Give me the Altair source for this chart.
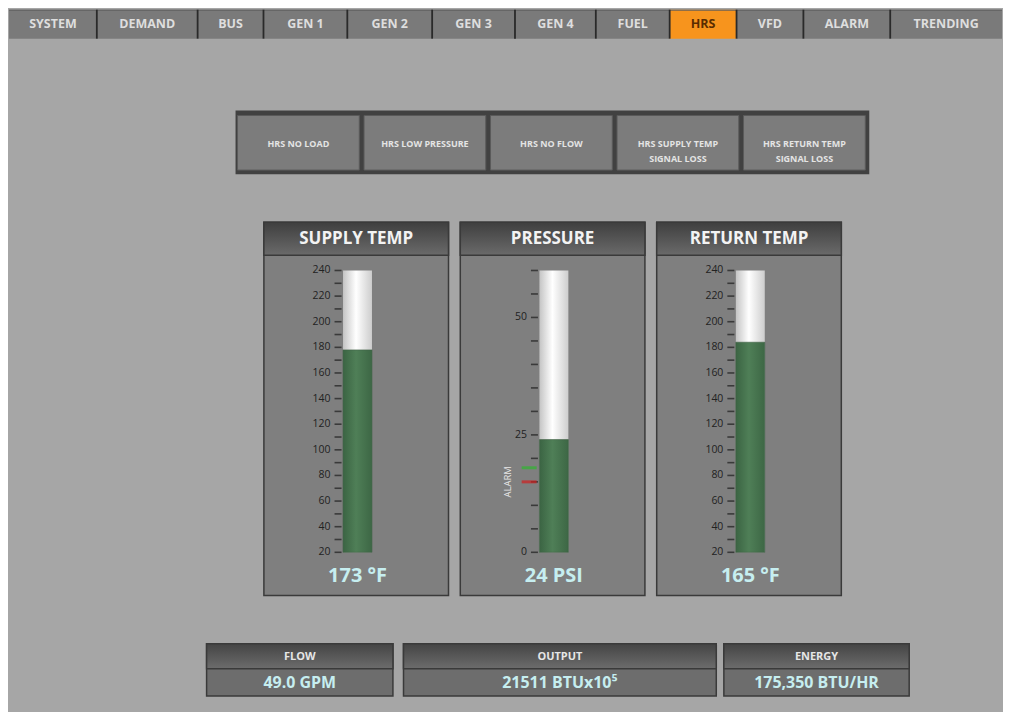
import altair as alt
import pandas as pd

# ---------------- data ----------------
TABS = ["SYSTEM", "DEMAND", "BUS", "GEN 1", "GEN 2", "GEN 3", "GEN 4",
        "FUEL", "HRS", "VFD", "ALARM", "TRENDING"]
ACTIVE_TAB = "HRS"

ALARMS = ["HRS NO LOAD", "HRS LOW PRESSURE", "HRS NO FLOW",
          "HRS SUPPLY TEMP\nSIGNAL LOSS", "HRS RETURN TEMP\nSIGNAL LOSS"]

GAUGES = ["SUPPLY TEMP", "PRESSURE", "RETURN TEMP"]
GAUGE_MIN = [20, 0, 20]
GAUGE_MAX = [240, 60, 240]
GAUGE_LEVEL = [178, 24, 184]
GAUGE_READING = ["173 °F", "24 PSI", "165 °F"]

TEMP_TICKS = list(range(20, 241, 10))
TEMP_LABELS = [20, 40, 60, 80, 100, 120, 140, 160, 180, 200, 220, 240]
PRESSURE_TICKS = list(range(0, 61, 5))
PRESSURE_LABELS = [0, 25, 50]
PRESSURE_ALARM_HIGH = 18
PRESSURE_ALARM_LOW = 15

TILES = ["FLOW", "OUTPUT", "ENERGY"]
TILE_VALUES = ["49.0 GPM", "21511 BTUx10\u2075", "175,350 BTU/HR"]

# ---------------- layout / style ----------------
W, H = 995, 703
BG = "#a6a6a6"
FONT = "Open Sans"
TAB_EDGES = [0, 88, 189, 255, 339, 424, 507, 588, 662, 729, 796, 883, 995]
GAUGE_CENTERS = [349.2, 546.0, 742.8]
STEP = GAUGE_CENTERS[1] - GAUGE_CENTERS[0]
TILE_EDGES = [(198, 384.7), (395.3, 708.7), (716.3, 902)]
VALUE_COLOR = "#c6eef0"


def vgrad(top, bottom):
    return alt.Gradient(gradient="linear", x1=0, x2=0, y1=0, y2=1,
                        stops=[alt.GradientStop(color=top, offset=0),
                               alt.GradientStop(color=bottom, offset=1)])


def hgrad(edge, mid, edge2):
    return alt.Gradient(gradient="linear", x1=0, x2=1, y1=0, y2=0,
                        stops=[alt.GradientStop(color=edge, offset=0),
                               alt.GradientStop(color=mid, offset=0.45),
                               alt.GradientStop(color=edge2, offset=1)])


NX = lambda f: alt.X(f, scale=None, axis=None)

# ---------------- tabs ----------------
tabs_df = pd.DataFrame({
    "label": TABS,
    "x0": TAB_EDGES[:-1],
    "x1": TAB_EDGES[1:],
})
tabs_df["xm"] = (tabs_df.x0 + tabs_df.x1) / 2
tabs_df["fill"] = ["#f7941d" if t == ACTIVE_TAB else "#7a7a7a" for t in TABS]
tabs_df["ink"] = ["#5a2c00" if t == ACTIVE_TAB else "#dedede" for t in TABS]
sep_df = pd.DataFrame({"x": TAB_EDGES[1:-1]})

tab_rects = alt.Chart(tabs_df).mark_rect().encode(
    x=NX("x0:Q"), x2="x1:Q", y=alt.value(0), y2=alt.value(29),
    fill=alt.Fill("fill:N", scale=None))
tab_top = alt.Chart(tabs_df.head(1)).mark_rule(color="#5e5e5e", strokeWidth=1).encode(
    x=alt.value(0), x2=alt.value(W), y=alt.value(0.5))
tab_seps = alt.Chart(sep_df).mark_rule(color="#2a2a2a", strokeWidth=1.8).encode(
    x=NX("x:Q"), y=alt.value(0), y2=alt.value(29))
tab_text = alt.Chart(tabs_df).mark_text(font=FONT, fontSize=12.5, fontWeight="bold",
                                        baseline="middle").encode(
    x=NX("xm:Q"), y=alt.value(14), text="label:N",
    color=alt.Color("ink:N", scale=None))

# ---------------- alarm strip ----------------
alarm_df = pd.DataFrame({"label": ALARMS})
alarm_df["x0"] = [229 + i * 126.75 for i in range(len(ALARMS))]
alarm_df["x1"] = alarm_df.x0 + 122
alarm_df["xm"] = (alarm_df.x0 + alarm_df.x1) / 2

alarm_frame = alt.Chart(alarm_df.head(1)).mark_rect(color="#414141").encode(
    x=alt.value(227), x2=alt.value(862), y=alt.value(101), y2=alt.value(165))
alarm_boxes = alt.Chart(alarm_df).mark_rect(fill="#7c7c7c", stroke="#5a5a5a",
                                            strokeWidth=1).encode(
    x=NX("x0:Q"), x2="x1:Q", y=alt.value(106), y2=alt.value(160.7))
alarm_text = alt.Chart(alarm_df).mark_text(font=FONT, fontSize=9, fontWeight="bold",
                                           lineBreak="\n", lineHeight=15,
                                           baseline="middle", color="#e4e4e4").encode(
    x=NX("xm:Q"), y=alt.value(134.6), text="label:N")

# ---------------- gauge panels (chrome) ----------------
panel_df = pd.DataFrame({"name": GAUGES, "c": GAUGE_CENTERS})
panel_df["x0"] = panel_df.c - 1.3 - 92.5
panel_df["x1"] = panel_df.c - 1.3 + 92.5
panel_df["xm"] = panel_df.c - 1.3

panels = alt.Chart(panel_df).mark_rect(fill="#7f7f7f", stroke="#3a3a3a",
                                       strokeWidth=1.5).encode(
    x=NX("x0:Q"), x2="x1:Q", y=alt.value(213), y2=alt.value(587))
headers = alt.Chart(panel_df).mark_rect(fill=vgrad("#3f3f3f", "#6a6a6a"),
                                        stroke="#3a3a3a", strokeWidth=1.5).encode(
    x=NX("x0:Q"), x2="x1:Q", y=alt.value(213), y2=alt.value(246))
header_text = alt.Chart(panel_df).mark_text(font=FONT, fontSize=17, fontWeight="bold",
                                            baseline="middle", color="#f3f3f3").encode(
    x=NX("xm:Q"), y=alt.value(229.5), text="name:N")

# ---------------- bottom tiles ----------------
tile_df = pd.DataFrame({"name": TILES, "value": TILE_VALUES})
tile_df["x0"] = [e[0] for e in TILE_EDGES]
tile_df["x1"] = [e[1] for e in TILE_EDGES]
tile_df["xm"] = (tile_df.x0 + tile_df.x1) / 2

tile_body = alt.Chart(tile_df).mark_rect(fill="#6d6d6d", stroke="#3a3a3a",
                                         strokeWidth=1.5).encode(
    x=NX("x0:Q"), x2="x1:Q", y=alt.value(635.3), y2=alt.value(687.7))
tile_head = alt.Chart(tile_df).mark_rect(fill=vgrad("#444444", "#6c6c6c"),
                                         stroke="#3a3a3a", strokeWidth=1.5).encode(
    x=NX("x0:Q"), x2="x1:Q", y=alt.value(635.3), y2=alt.value(660.3))
tile_name = alt.Chart(tile_df).mark_text(font=FONT, fontSize=11, fontWeight="bold",
                                         baseline="middle", color="#e6e6e6").encode(
    x=NX("xm:Q"), y=alt.value(648.5), text="name:N")
tile_value = alt.Chart(tile_df).mark_text(font=FONT, fontSize=16, fontWeight="bold",
                                          baseline="middle", color=VALUE_COLOR).encode(
    x=NX("xm:Q"), y=alt.value(674.5), text="value:N")

# ---------------- gauges (through scales) ----------------
XS = alt.Scale(domain=GAUGES, range=[GAUGE_CENTERS[0] - STEP / 2, GAUGE_CENTERS[-1] + STEP / 2],
               paddingInner=0, paddingOuter=0)
Y_RANGE = [543.7, 261.3]


def gauge_group(idx, ticks, labels, extra=None):
    names = [GAUGES[i] for i in idx]
    ys = alt.Scale(domain=[GAUGE_MIN[idx[0]], GAUGE_MAX[idx[0]]], range=Y_RANGE,
                   nice=False, zero=False)
    gx = alt.X("name:N", scale=XS, axis=None)
    full = pd.DataFrame({"name": names,
                         "lo": [GAUGE_MIN[i] for i in idx],
                         "hi": [GAUGE_MAX[i] for i in idx]})
    lvl = pd.DataFrame({"name": names,
                        "lo": [GAUGE_MIN[i] for i in idx],
                        "hi": [GAUGE_LEVEL[i] for i in idx],
                        "reading": [GAUGE_READING[i] for i in idx]})
    tick_df = pd.DataFrame([{"name": n, "v": v} for n in names for v in ticks])
    lab_df = pd.DataFrame([{"name": n, "v": v, "t": str(v)} for n in names for v in labels])

    tube = alt.Chart(full).mark_bar(width=29, fill=hgrad("#c4c4c4", "#ffffff", "#cdcdcd")).encode(
        x=gx, y=alt.Y("lo:Q", scale=ys, axis=None), y2="hi:Q")
    fill = alt.Chart(lvl).mark_bar(width=29, fill=hgrad("#3b6443", "#4f7f57", "#3d6745"),
                                   stroke="#3f5f44", strokeWidth=0.6).encode(
        x=gx, y=alt.Y("lo:Q", scale=ys, axis=None), y2="hi:Q")
    tk = alt.Chart(tick_df).mark_tick(orient="horizontal", size=7, thickness=1.6,
                                      color="#1c1c1c", xOffset=-19.5).encode(
        x=gx, y=alt.Y("v:Q", scale=ys, axis=None))
    lb = alt.Chart(lab_df).mark_text(font=FONT, fontSize=10.5, align="right",
                                     baseline="middle", color="#222222",
                                     xOffset=-27).encode(
        x=gx, y=alt.Y("v:Q", scale=ys, axis=None), text="t:N")
    rd = alt.Chart(lvl).mark_text(font=FONT, fontSize=20, fontWeight="bold",
                                  baseline="middle", color=VALUE_COLOR).encode(
        x=gx, y=alt.value(567), text="reading:N")
    layers = [tube, fill, tk, lb, rd]
    if extra is not None:
        layers += extra(gx, ys)
    return alt.layer(*layers)


def pressure_extra(gx, ys):
    mk = pd.DataFrame({"name": ["PRESSURE", "PRESSURE"],
                       "v": [PRESSURE_ALARM_HIGH, PRESSURE_ALARM_LOW],
                       "c": ["#2fb52f", "#cf2020"]})
    marks = alt.Chart(mk).mark_tick(orient="horizontal", size=15, thickness=3,
                                    xOffset=-24.8).encode(
        x=gx, y=alt.Y("v:Q", scale=ys, axis=None), color=alt.Color("c:N", scale=None))
    lab = alt.Chart(mk.head(1)).mark_text(font=FONT, fontSize=9.5, angle=270,
                                          baseline="middle", color="#e8e8e8",
                                          xOffset=-46).encode(
        x=gx, y=alt.value(473), text=alt.value("ALARM"))
    return [marks, lab]


temp_group = gauge_group([0, 2], TEMP_TICKS, TEMP_LABELS)
pres_group = gauge_group([1], PRESSURE_TICKS, PRESSURE_LABELS, pressure_extra)

chart = alt.layer(
    tab_rects, tab_top, tab_seps, tab_text,
    alarm_frame, alarm_boxes, alarm_text,
    panels, headers, header_text,
    tile_body, tile_head, tile_name, tile_value,
    temp_group, pres_group,
).resolve_scale(x="independent", y="independent").properties(
    width=W, height=H, padding=0, background=BG
).configure_view(stroke=None, fill=BG)

chart.save("out.html", embed_options={"renderer": "svg", "actions": False})
